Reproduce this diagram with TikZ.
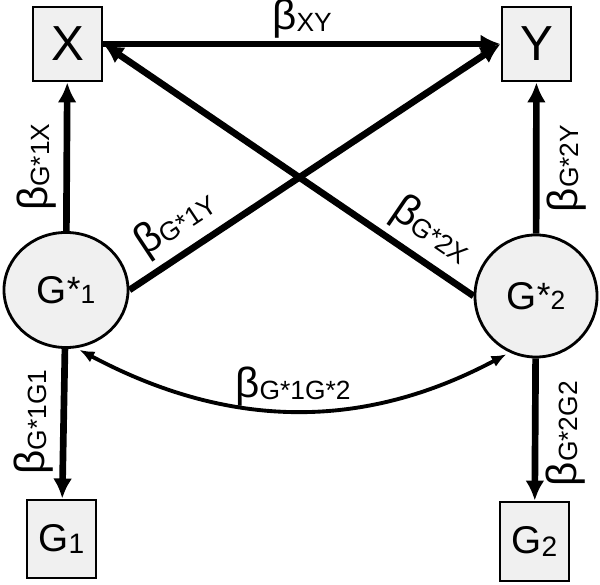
\documentclass[tikz,border=0pt]{standalone}
\usepackage{fontspec}
\setmainfont{Liberation Sans}
\usetikzlibrary{arrows.meta,shapes.geometric}

% Etiquetas beta con subindice
\newcommand{\bsub}[1]{{\fontsize{12}{14}\selectfont β{\fontsize{7.5}{8}\selectfont\raisebox{-0.5pt}{#1}}}}
% Variables G con subindice
\newcommand{\gsub}[1]{G{\fontsize{8}{8}\selectfont\raisebox{-0.7pt}{#1}}}
% Variables latentes G*
\newcommand{\gest}[1]{G{\fontsize{10}{10}\selectfont\raisebox{0.6pt}{*}}{\fontsize{7.5}{8}\selectfont #1}}

\begin{document}
\begin{tikzpicture}[x=0.01cm, y=0.01cm,
    caja/.style={draw, line width=0.8pt, fill=black!6, inner sep=0pt},
    latente/.style={draw, line width=0.8pt, fill=black!6, inner sep=0pt, ellipse},
    flecha/.style={-{Latex[length=2mm,width=1.9mm]}, line width=1.9pt},
    curva/.style={{Latex[length=1.5mm,width=1.2mm]}-{Latex[length=1.5mm,width=1.2mm]}, line width=1.1pt, shorten <=1pt, shorten >=1pt},
    etq/.style={inner sep=2pt}]

    \useasboundingbox (0,0) rectangle (600,585);

    % Variables observadas
    \node[caja, minimum width=0.69cm, minimum height=0.74cm, font=\fontsize{14}{15}\selectfont] (x) at (67.5,541) {X};
    \node[caja, minimum width=0.69cm, minimum height=0.74cm, font=\fontsize{14}{15}\selectfont] (y) at (536.5,541) {Y};
    \node[caja, minimum width=0.69cm, minimum height=0.78cm, font=\fontsize{11}{12}\selectfont] (g1) at (61.5,46) {\gsub{1}};
    \node[caja, minimum width=0.69cm, minimum height=0.79cm, font=\fontsize{11}{12}\selectfont] (g2) at (534.5,43.5) {\gsub{2}};

    % Variables latentes
    \node[latente, minimum width=1.24cm, minimum height=1.15cm, font=\fontsize{11}{12}\selectfont] (gs1) at (66,295) {\gest{1}};
    \node[latente, minimum width=1.22cm, minimum height=1.22cm, font=\fontsize{11}{12}\selectfont] (gs2) at (536,289) {\gest{2}};

    % Efectos
    \draw[flecha] (x) -- node[pos=.5, above, etq, inner sep=0.6pt] {\bsub{XY}} (y);
    \draw[flecha] (gs1) -- node[pos=.43, above, rotate=90, etq] {\bsub{G*1X}} (x);
    \draw[flecha] (gs2) -- node[pos=.43, below, rotate=90, etq] {\bsub{G*2Y}} (y);
    \draw[flecha] (gs1.east) -- node[pos=.17, above, sloped, etq] {\bsub{G*1Y}} (y.west);
    \draw[flecha] (gs2.west) -- node[pos=.16, above, sloped, etq] {\bsub{G*2X}} (x.east);
    \draw[flecha] (gs1) -- node[pos=.49, above, rotate=90, etq] {\bsub{G*1G1}} (g1);
    \draw[flecha] (gs2) -- node[pos=.53, below, rotate=90, etq] {\bsub{G*2G2}} (g2);

    % Covarianza entre latentes
    \draw[curva] (gs1.-80) to[out=-28, in=-152] node[pos=.5, above, inner sep=0.5pt] {\bsub{G*1G*2}} (gs2.-115);

\end{tikzpicture}
\end{document}
